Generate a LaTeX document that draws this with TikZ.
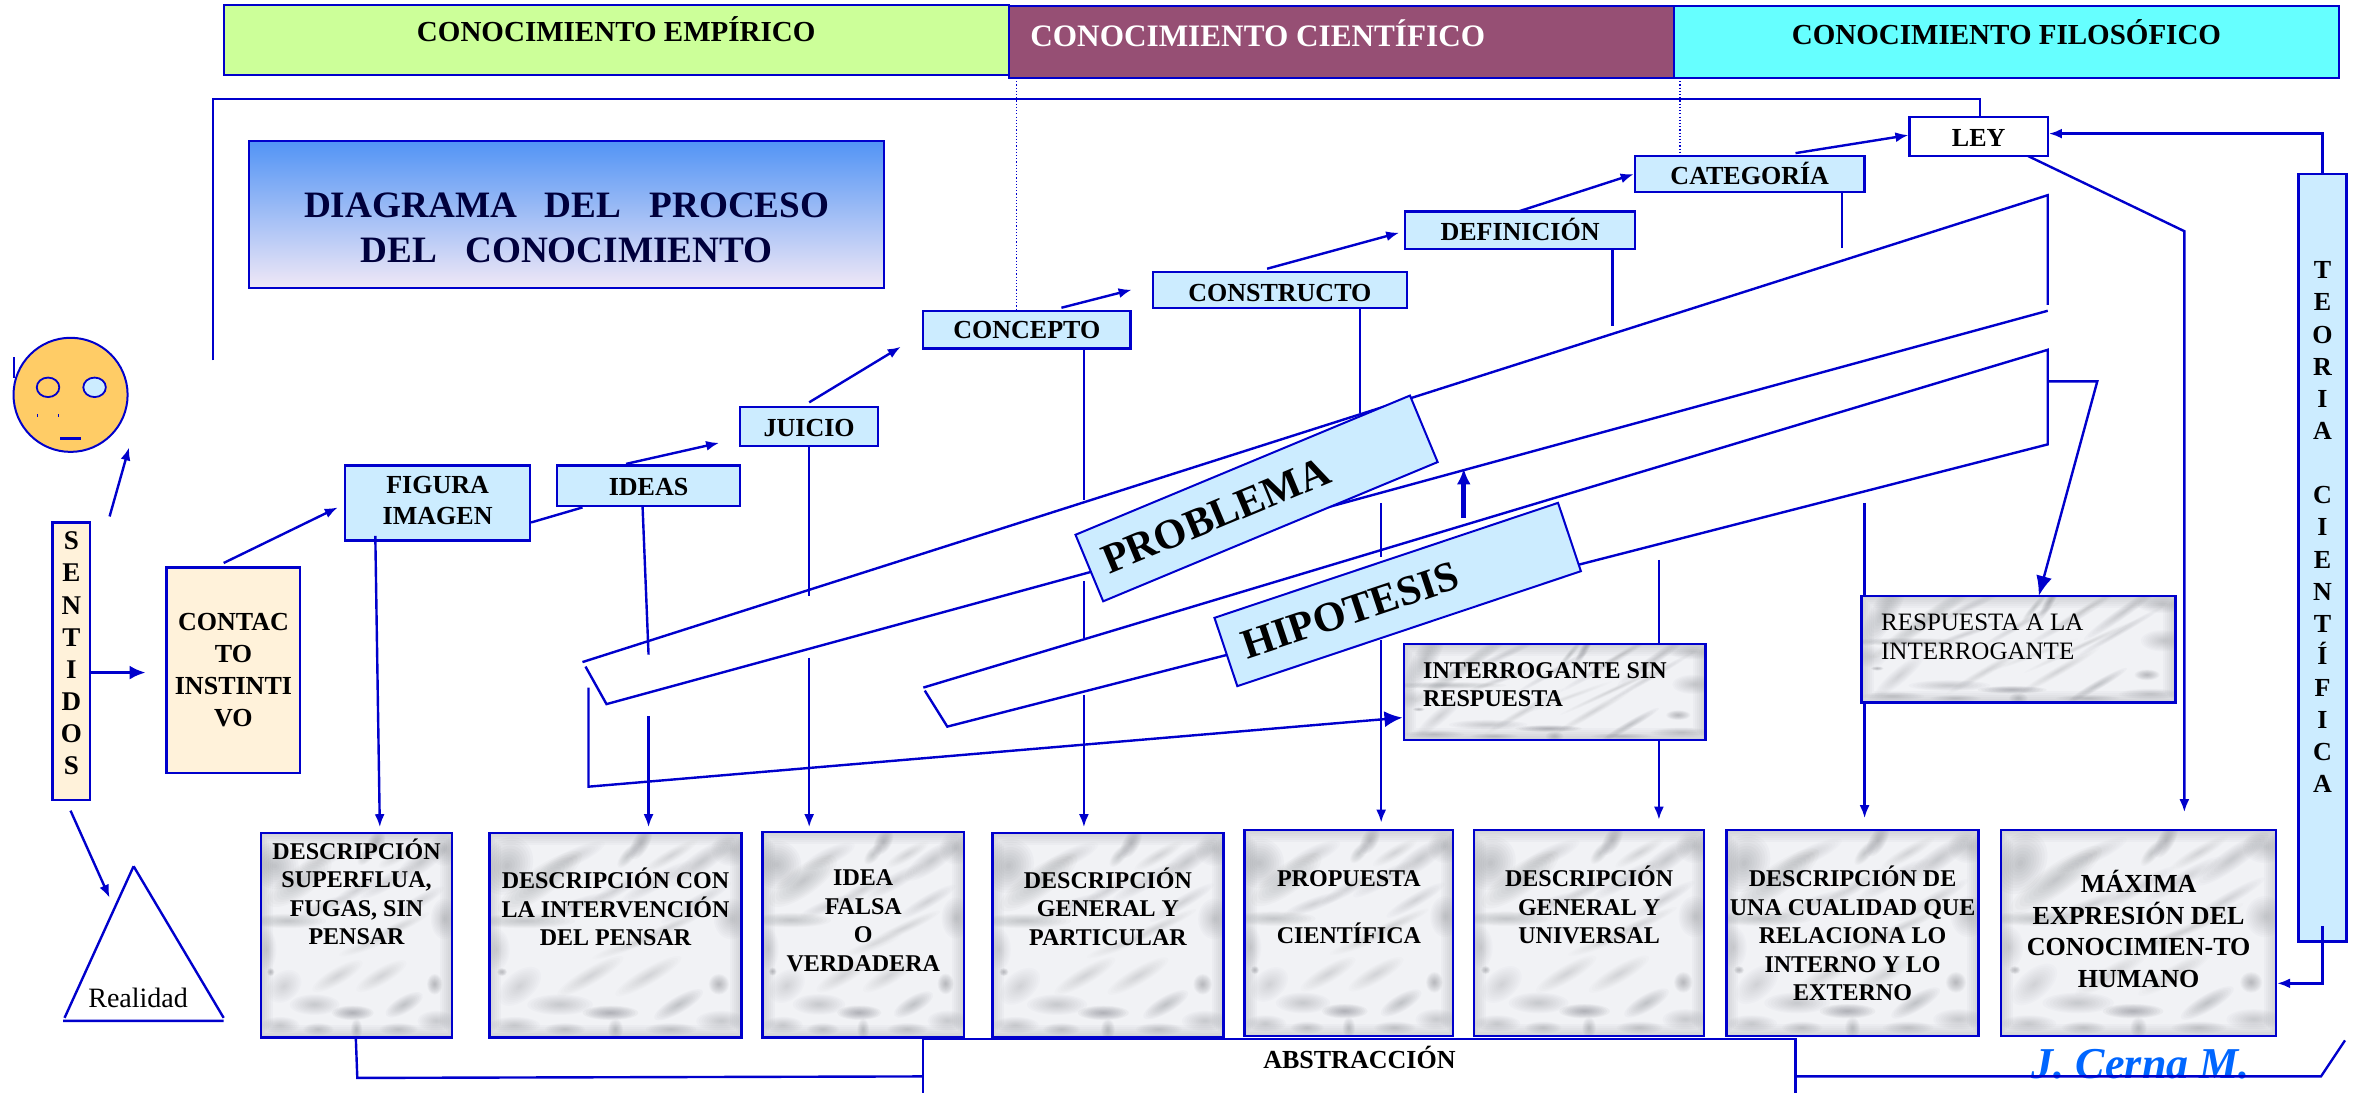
\documentclass[tikz,border=0pt]{standalone}
\usepackage{fontspec}
\setmainfont{Liberation Serif}
\usetikzlibrary{arrows.meta,calc}
\definecolor{lineblue}{HTML}{0000CC}
\definecolor{skyfill}{HTML}{CCECFF}
\definecolor{creamfill}{HTML}{FFF2DA}
\definecolor{mbase}{HTML}{F1F2F5}
\definecolor{mdark}{HTML}{6F7279}
\definecolor{barpurple}{HTML}{964F74}
\newcommand\lblfont{\fontsize{13}{15.5}\selectfont\bfseries}
\newcommand\mblfont{\fontsize{12}{14.2}\selectfont\bfseries}
\newcommand\mtex[4]{%
  \pgfmathsetmacro\mtw{(#3-#1)*0.75}\pgfmathsetmacro\mth{(#4-#2)*0.75}%
  \begin{scope}
    \clip (#1,#2) rectangle (#3,#4);
    \fill[mbase] (#1,#2) rectangle (#3,#4);
    \begin{scope}[shift={(#1,#2)},x=\mtw pt,y=-\mth pt]
    \foreach \bxx/\byy/\brx/\bry/\bang/\bop in {
      .60/.05/.07/.04/60/.5, .55/.11/.06/.03/50/.35, .20/.24/.20/.07/35/.35, .07/.16/.12/.12/60/.4, .33/.12/.14/.04/25/.25,
      .84/.14/.16/.05/35/.3, .96/.08/.08/.08/0/.3, .72/.11/.12/.03/30/.2, .14/.43/.20/.035/0/.35, .33/.36/.15/.03/20/.25,
      .50/.28/.15/.03/30/.25, .66/.24/.16/.035/30/.25, .82/.34/.16/.03/30/.25, .96/.42/.07/.10/0/.3, .70/.47/.20/.025/25/.2,
      .03/.57/.05/.10/0/.25, .12/.75/.10/.07/40/.25, .28/.84/.13/.05/0/.3, .48/.88/.11/.035/0/.6, .50/.96/.03/.05/0/.4,
      .75/.84/.11/.04/30/.4, .91/.74/.04/.05/0/.5, .40/.70/.15/.04/30/.18, .63/.70/.15/.04/30/.18, .05/.68/.02/.02/0/.5,
      .92/.92/.10/.05/0/.3, .10/.94/.10/.04/0/.3, .30/.96/.08/.03/0/.3, .72/.96/.10/.03/0/.3, .55/.55/.15/.025/20/.12} {
      \pgfmathsetmacro\bolayer{\bop*0.10}%
      \foreach \sc in {1,.9,.8,.7,.6,.5,.4,.3,.2,.1} {
        \fill[mdark,opacity=\bolayer,shift={(\bxx,\byy)},rotate=\bang] (0,0) ellipse [x radius={\sc*\brx*\mtw pt},y radius={\sc*\bry*\mth pt}];
      }
    }
    \foreach \lw in {2,4,6,8,10,12} {
      \draw[mdark,opacity=.04,line width=\lw pt] (0,0) rectangle (1,1);
    }
    \end{scope}
  \end{scope}}
\tikzset{
  boxbase/.style={draw=lineblue,line width=1.2pt,rectangle,inner sep=0pt,font=\lblfont,text=black},
  sky/.style={fill=skyfill},
  cream/.style={fill=creamfill},
  whitebox/.style={fill=white},
  marble/.style={font=\mblfont},
  barbox/.style={line width=1pt,font=\fontsize{14.5}{17}\selectfont\bfseries},
  ln/.style={draw=lineblue,line width=1.2pt},
  arr/.style={ln,-{Latex[length=6.5pt,width=5pt]}},
  bigarr/.style={ln,line width=1.5pt,-{Latex[length=8pt,width=7pt]}},
  thin dot/.style={draw=lineblue,line width=.6pt,densely dotted},
  tiltbox/.style={draw=lineblue,line width=1pt,fill=skyfill,rectangle,inner sep=0pt,minimum width=181pt,minimum height=36pt,font=\fontsize{21}{24}\selectfont\bfseries,text=black},
}
\newcommand\bx[8][]{%
  \pgfmathsetmacro\bxw{(#5-#3)*0.75}\pgfmathsetmacro\bxh{(#6-#4)*0.75}%
  \pgfmathsetmacro\bxr{((#4+#6)/2-#7)*0.75-5}%
  \node[boxbase,#1,minimum width=\bxw pt,minimum height=\bxh pt] (#2) at ({(#3+#5)/2},{(#4+#6)/2})
    {\raisebox{\bxr pt}[0pt][0pt]{\begin{tabular}[c]{@{}c@{}}#8\end{tabular}}};}
\newcommand\bxl[9][]{%
  \pgfmathsetmacro\bxw{(#5-#3)*0.75}\pgfmathsetmacro\bxh{(#6-#4)*0.75}%
  \pgfmathsetmacro\bxr{((#4+#6)/2-#7)*0.75-5}\pgfmathsetmacro\bxp{#8*0.75}%
  \node[boxbase,#1,minimum width=\bxw pt,minimum height=\bxh pt] (#2) at ({(#3+#5)/2},{(#4+#6)/2})
    {\raisebox{\bxr pt}[0pt][0pt]{\makebox[\bxw pt][l]{\hspace*{\bxp pt}\begin{tabular}[c]{@{}l@{}}#9\end{tabular}}}};}
\newcommand\mb[8][]{\mtex{#3}{#4}{#5}{#6}\bx[marble,#1]{#2}{#3}{#4}{#5}{#6}{#7}{#8}}
\newcommand\mbl[9][]{\mtex{#3}{#4}{#5}{#6}\bxl[marble,#1]{#2}{#3}{#4}{#5}{#6}{#7}{#8}{#9}}
\begin{document}
\begin{tikzpicture}[x=0.75pt,y=-0.75pt]
\useasboundingbox (0,0) rectangle (1568,728);

% header bars
\bx[barbox,fill={rgb,255:red,204;green,255;blue,153}]{barE}{149}{3}{672}{50}{21}{CONOCIMIENTO EMPÍRICO}
\bx[barbox,fill=barpurple,text=white,font=\fontsize{15.6}{18}\selectfont\bfseries]{barC}{672}{4}{1115}{52}{24}{\hspace*{-83.5pt}CONOCIMIENTO CIENTÍFICO}
\bx[barbox,fill={rgb,255:red,102;green,255;blue,255}]{barF}{1115}{4}{1558}{52}{23}{CONOCIMIENTO FILOSÓFICO}

% title
\bx[top color={rgb,255:red,82;green,148;blue,245},bottom color={rgb,255:red,240;green,232;blue,246},font=\fontsize{18.6}{22.5}\selectfont\bfseries,text={rgb,255:red,0;green,0;blue,60}]{title}{166}{94}{589}{192}{153}{DIAGRAMA~~~DEL~~~PROCESO\\DEL~~~CONOCIMIENTO}

% chain of concepts
\bx[whitebox]{ley}{1272}{78}{1364}{104}{91}{LEY}
\bx[sky]{categoria}{1089}{104}{1242}{128}{116}{CATEGORÍA}
\bx[sky]{definicion}{936}{141}{1089}{166}{153}{DEFINICIÓN}
\bx[sky]{constructo}{768}{181}{937}{205}{194}{CONSTRUCTO}
\bx[sky]{concepto}{615}{207}{753}{232}{219}{CONCEPTO}
\bx[sky]{juicio}{493}{271}{585}{297}{284}{JUICIO}
\bx[sky]{ideas}{371}{310}{493}{337}{323}{IDEAS}
\bx[sky]{figura}{230}{310}{353}{360}{332}{FIGURA\\IMAGEN}
\bx[cream,font=\fontsize{13}{16}\selectfont\bfseries]{contacto}{111}{378}{200}{515}{445}{CONTAC\\TO\\INSTINTI\\VO}
\bx[cream,font=\fontsize{13.5}{16.05}\selectfont\bfseries]{sentidos}{35}{348}{60}{533}{435}{S\\E\\N\\T\\I\\D\\O\\S}
\bx[sky,font=\fontsize{13}{16.05}\selectfont\bfseries]{teoria}{1531}{116}{1563}{627}{350}{T\\E\\O\\R\\I\\A\\ \\C\\I\\E\\N\\T\\Í\\F\\I\\C\\A}

% face
\node[draw=lineblue,line width=1pt,fill={rgb,255:red,255;green,204;blue,102},circle,inner sep=0pt,minimum size=57pt] (face) at (47,263) {};
\draw[lineblue,line width=.9pt] (32,258) ellipse [x radius=7.5,y radius=6.5];
\draw[lineblue,line width=.9pt,fill=skyfill] (63,258) ellipse [x radius=7.5,y radius=6.5];
\draw[lineblue,line width=1.4pt] (40,292) -- (54,292);
\draw[lineblue,line width=.3pt] (25,276) -- (25,278) (39,276) -- (39,278);
\draw[lineblue,line width=1pt] (9,238) -- (9,252);

% reality triangle
\coordinate (triTop) at (89,577);
\coordinate (triL) at (43,678);
\coordinate (triR) at (149,678);
\draw[ln] (triTop) -- (triL) (triTop) -- (triR) (42,680) -- (149,680);
\node[font=\fontsize{14}{16}\selectfont,text=black,inner sep=0pt] (realidad) at (92,665) {Realidad};

% bands behind the tilted boxes
\coordinate (pA) at (388,441);
\coordinate (pB) at (1364,130);
\coordinate (pC) at (1364,203);
\coordinate (pD) at (1364,207);
\coordinate (pE) at (404,469);
\coordinate (pF) at (390,444);
\draw[ln] (pA) -- (pB) -- (pC) (pD) -- (pE) -- (pF);
\coordinate (hA) at (615,458);
\coordinate (hB) at (1364,233);
\coordinate (hC) at (1364,296);
\coordinate (hD) at (631,484);
\coordinate (hE) at (616,460);
\draw[ln] (hA) -- (hB) -- (hC) -- (hD) -- (hE);

% marble boxes
\mb{b1}{174}{555}{301}{691}{594}{DESCRIPCIÓN\\SUPERFLUA,\\FUGAS, SIN\\PENSAR}
\mb{b2}{326}{555}{494}{691}{604}{DESCRIPCIÓN CON\\LA INTERVENCIÓN\\DEL PENSAR}
\mb{b3}{508}{554}{642}{691}{612}{IDEA\\FALSA\\O\\VERDADERA}
\mb{b4}{661}{555}{815}{691}{604}{DESCRIPCIÓN\\GENERAL Y\\PARTICULAR}
\mb{b5}{829}{553}{968}{690}{603}{PROPUESTA\\ \\CIENTÍFICA}
\mb{b6}{982}{553}{1135}{690}{603}{DESCRIPCIÓN\\GENERAL Y\\UNIVERSAL}
\mb{b7}{1150}{553}{1318}{690}{622}{DESCRIPCIÓN DE\\UNA CUALIDAD QUE\\RELACIONA LO\\INTERNO Y LO\\EXTERNO}
\mb[font=\fontsize{13}{15.8}\selectfont\bfseries]{b8}{1333}{553}{1516}{690}{619}{MÁXIMA\\EXPRESIÓN DEL\\CONOCIMIEN-TO\\HUMANO}
\mbl{sinresp}{935}{429}{1136}{493}{455}{13}{INTERROGANTE SIN\\RESPUESTA}
\mbl[font=\fontsize{12.5}{14.5}\selectfont]{resp}{1240}{397}{1449}{468}{423}{13}{RESPUESTA A LA\\INTERROGANTE}

% tilted boxes
\node[tiltbox,rotate=22.6] (problema) at (837,332) {\raisebox{-2pt}{PROBLEMA}\hspace*{44pt}};
\node[tiltbox,rotate=18.5] (hipotesis) at (931,396) {\raisebox{-3pt}{HIPOTESIS}\hspace*{50pt}};

% abstraction strip
\bx[whitebox]{abstraccion}{615}{692}{1196}{740}{705}{ABSTRACCIÓN}
\node[font=\fontsize{22}{24}\selectfont\bfseries\itshape,text={rgb,255:red,0;green,102;blue,255},inner sep=0pt] (firma) at (1426,709) {J. Cerna M.};

% free ends of connectors
\coordinate (c1) at (73,344);   \coordinate (c2) at (86,298);
\coordinate (c3) at (97,448);
\coordinate (c4) at (47,540);   \coordinate (c5) at (73,598);
\coordinate (c6) at (225,338);
\coordinate (c7) at (479,295);
\coordinate (c8) at (600,231);
\coordinate (up) at (142,240);
\coordinate (upc) at (142,66);
\coordinate (upd) at (1319,66);
\coordinate (lawa) at (1455,154);
\coordinate (teoa) at (1547,89);
\coordinate (teob) at (1547,655);
\coordinate (hook) at (1397,254);
\coordinate (hookb) at (1364,254);
\coordinate (crossa) at (392,458);
\coordinate (crossb) at (392,524);
\coordinate (ba) at (238,718);
\coordinate (bb) at (1546,717);
\coordinate (bc) at (1562,693);

% top frame and dotted guides
\draw[ln] (up) -- (upc) -- (upd) -- (upd |- ley.north);
\draw[thin dot] (677,52) -- (677,207);
\draw[thin dot] (1119,52) -- (1119,104);

% senses
\draw[arr] (c1) -- (c2);
\draw[bigarr] (sentidos.east |- c3) -- (c3);
\draw[arr] (c4) -- (c5);
\draw[arr] (149,375) -- (c6);

% chain
\draw[ln] (figura.east |- 0,348) -- (388,338);
\draw[arr] (417,309) -- (c7);
\draw[arr] (539,268) -- (c8);
\draw[arr] (707,205) -- (concepto.east |- 0,193);
\draw[arr] (844,179) -- (932,155);
\draw[arr] (1011,141) -- (categoria.west |- 0,116);
\draw[arr] (1196,102) -- (ley.west |- 0,90);
\draw[arr] (teoria.north -| teoa) -- (teoa) -- (ley.east |- teoa);
\draw[arr] (1351,104) -- (lawa) -- (1455,541);
\draw[arr] (teoa |- 0,617) -- (teob) -- (b8.east |- teob);

% verticals to the descriptions
\draw[arr] (250,357) -- (253,551);
\draw[ln] (428,337) -- (432,436);
\draw[arr] (432,477) -- (432,551);
\draw[ln] (539,297) -- (539,397);
\draw[arr] (539,438) -- (539,551);
\draw[ln] (722,232) -- (722,333) (722,387) -- (722,425);
\draw[arr] (722,463) -- (722,551);
\draw[ln] (906,205) -- (906,275);
\draw[ln] (920,335) -- (920,371);
\draw[arr] (920,426) -- (920,548);
\draw[ln] (1074,166) -- (1074,217);
\draw[ln] (1105,373) -- (1105,429);
\draw[arr] (1105,493) -- (1105,546);
\draw[ln] (1227,128) -- (1227,165);
\draw[ln] (1242,335) -- (1242,397);
\draw[arr] (1242,468) -- (1242,545);

% hook to the answer and cross to the open question
\draw[ln,-{Latex[length=10pt,width=8pt]}] (hookb) -- (hook) -- (1358,397);
\draw[ln,-{Latex[length=9pt,width=8pt]}] (crossa) -- (crossb) -- (sinresp.west |- 0,478);

% thick arrow between the tilted boxes
\draw[ln,line width=2.4pt,-{Latex[length=8pt,width=7pt]}] (975,345) -- (975,312);

% abstraction base line
\draw[ln] (237,691) -- (ba) -- (abstraccion.west |- 0,717);
\draw[ln] (abstraccion.east |- bb) -- (bb) -- (bc);
\end{tikzpicture}
\end{document}
